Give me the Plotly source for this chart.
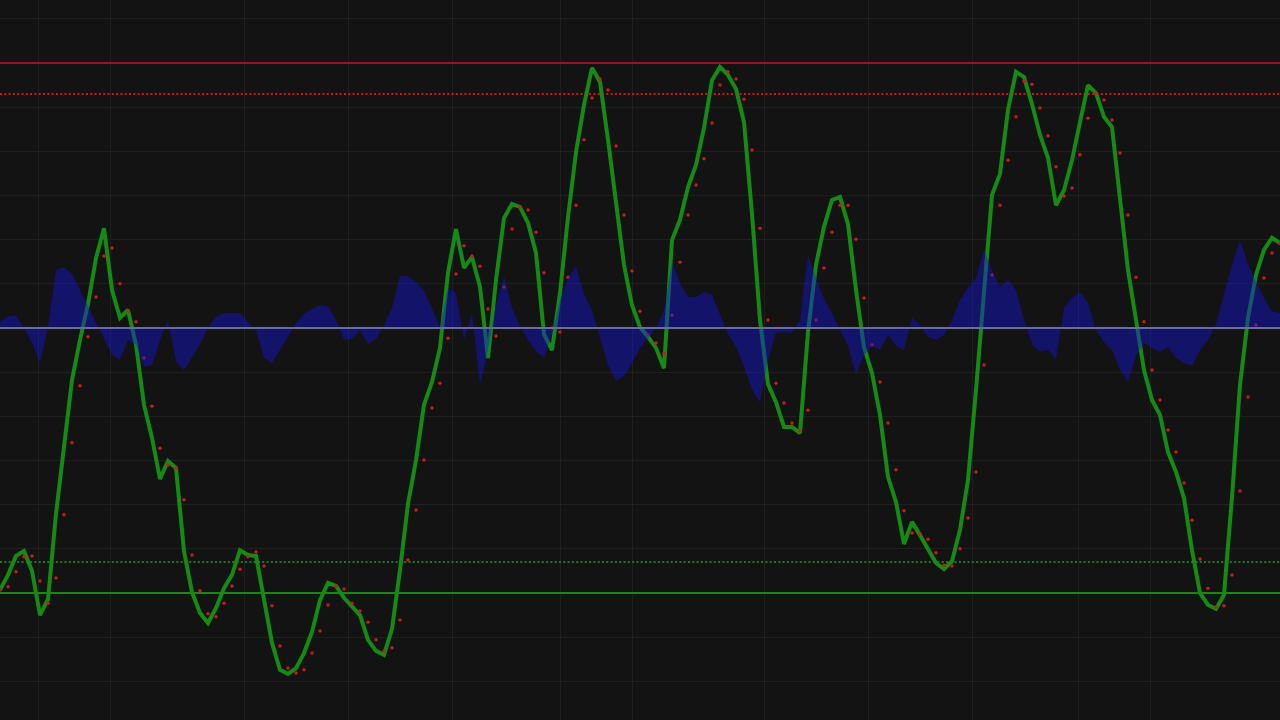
import plotly.graph_objects as go

# Bar index (one bar every 8 px of the original picture)
bars = list(range(161))

# WaveTrend main line (wt1)
wt1 = [-59.3, -55.9, -51.6, -50.5, -55.0, -65.0, -61.4, -42.1, -26.9, -11.8,
       -2.7, 5.4, 15.8, 22.6, 8.6, 2.3, 4.1, -3.8, -17.4, -24.9,
       -34.2, -30.1, -31.7, -50.5, -59.8, -64.5, -66.8, -63.4, -58.9, -55.9,
       -50.3, -51.4, -51.6, -62.0, -71.3, -77.4, -78.3, -77.0, -73.6, -68.8,
       -61.6, -57.7, -58.4, -61.1, -62.9, -65.0, -70.6, -73.1, -74.0, -68.1,
       -54.8, -39.8, -29.9, -17.4, -12.2, -4.5, 12.5, 22.4, 13.6, 16.1,
       9.3, -6.8, 10.9, 24.9, 28.1, 27.4, 23.8, 17.0, -1.4, -5.0,
       7.9, 25.1, 39.8, 50.5, 58.9, 55.7, 42.6, 29.0, 14.3, 5.2,
       0.2, -2.0, -4.5, -9.1, 19.9, 24.5, 31.9, 36.9, 45.3, 56.1,
       59.1, 57.3, 54.1, 46.6, 25.8, 1.8, -12.7, -16.8, -22.4, -22.4,
       -23.8, -0.9, 14.3, 22.9, 29.0, 29.7, 23.5, 8.6, -4.3, -10.2,
       -19.7, -33.7, -39.4, -48.9, -43.9, -46.9, -50.0, -53.2, -54.6, -52.8,
       -45.7, -34.4, -14.0, 9.1, 30.1, 34.9, 49.4, 58.0, 56.8, 50.7,
       43.7, 38.5, 27.8, 31.2, 38.0, 46.6, 55.0, 53.2, 47.8, 45.5,
       29.0, 13.1, 1.8, -9.5, -16.3, -19.7, -28.1, -32.6, -38.5, -50.3,
       -60.0, -62.7, -63.6, -60.4, -38.3, -12.9, 2.3, 12.0, 17.7, 20.4,
       19.2]

# Signal line (wt2), drawn as red dots
wt2 = [-59.3, -58.6, -55.2, -51.8, -51.6, -57.3, -62.3, -56.6, -42.3, -26.0,
       -13.1, -2.0, 7.0, 16.3, 18.1, 10.0, 3.8, 1.4, -6.8, -17.7,
       -27.2, -31.0, -31.7, -38.9, -51.4, -59.5, -64.7, -65.4, -62.3, -58.4,
       -54.6, -51.8, -50.7, -53.9, -62.9, -72.0, -77.0, -78.1, -77.4, -73.6,
       -68.6, -62.7, -58.4, -59.1, -62.3, -64.1, -66.6, -70.6, -73.1, -72.4,
       -66.1, -52.5, -41.2, -29.9, -18.1, -12.5, -2.3, 12.2, 18.6, 16.3,
       14.0, 4.3, -1.8, 9.3, 22.4, 27.4, 26.7, 21.7, 12.5, 0.0,
       -0.9, 11.5, 27.8, 42.6, 52.1, 56.4, 53.9, 41.2, 25.6, 12.9,
       3.8, -1.6, -3.4, -5.7, 2.9, 14.9, 25.6, 32.4, 38.3, 46.4,
       55.0, 58.0, 56.4, 51.8, 40.3, 22.6, 1.8, -12.5, -17.0, -21.5,
       -23.3, -18.6, 1.8, 13.6, 21.7, 27.8, 27.8, 20.1, 6.8, -3.8,
       -12.2, -21.5, -32.1, -41.4, -46.4, -46.6, -47.8, -50.9, -53.7, -53.9,
       -50.0, -43.0, -32.6, -8.4, 12.0, 27.8, 38.0, 47.8, 55.9, 55.2,
       49.8, 43.5, 36.5, 29.9, 31.7, 39.2, 47.5, 53.2, 51.6, 47.1,
       39.6, 25.6, 11.5, 1.4, -9.5, -16.3, -23.1, -28.1, -35.1, -43.5,
       -52.3, -58.9, -63.2, -62.9, -55.9, -36.9, -15.6, 0.7, 11.3, 17.0,
       19.2]

# Momentum area (wt1 - wt2 style histogram)
momentum = [1.4, 2.7, 2.9, 0.0, -3.4, -7.9, 0.2, 13.1, 13.8, 12.2,
            8.6, 5.0, 1.4, -2.3, -6.1, -7.2, -2.7, -3.8, -8.8, -8.4,
            -2.7, 1.8, -7.7, -9.5, -6.6, -3.8, 0.2, 2.5, 3.4, 3.4,
            3.4, 1.4, -0.5, -6.8, -7.9, -5.0, -2.0, 1.1, 3.2, 4.3,
            5.2, 5.0, 1.8, -2.7, -2.5, -0.5, -3.6, -2.5, 0.7, 4.5,
            11.8, 11.8, 10.4, 8.4, 4.5, 0.0, 9.1, 7.9, -2.7, 3.4,
            -13.0, -5.0, 5.2, 11.8, 4.5, 0.5, -2.7, -5.2, -6.8, -1.4,
            6.3, 11.3, 14.0, 7.7, 4.1, -2.3, -8.4, -12.0, -10.9, -7.9,
            -4.5, -2.3, 0.0, 4.1, 14.9, 10.2, 7.0, 7.0, 8.2, 7.5,
            2.9, -1.4, -4.3, -8.8, -14.0, -16.8, -7.2, -1.1, -0.9, -1.1,
            1.8, 16.5, 11.3, 6.6, 3.2, -0.5, -4.1, -10.6, -6.1, -4.1,
            -5.0, -1.6, -4.1, -5.0, 2.3, 0.7, -2.0, -2.7, -1.6, 1.8,
            6.3, 9.1, 11.3, 17.7, 13.1, 9.3, 10.9, 8.6, 1.8, -3.6,
            -5.4, -5.0, -7.2, 4.5, 6.8, 8.2, 5.7, -0.5, -3.2, -5.0,
            -9.5, -12.2, -6.3, -3.4, -4.5, -5.4, -4.3, -6.8, -7.9, -8.6,
            -5.0, -2.7, 0.9, 7.5, 14.3, 19.9, 14.5, 10.4, 6.8, 3.8,
            3.4]

# Levels
ob_level1 = 60
ob_level2 = 53
os_level1 = -60
os_level2 = -53
mid_level = 0

# Grid positions (bar index) and value grid
grid_x = [4.75, 13.75, 30.6, 43.6, 56.6, 70.0, 79.0, 95.6, 108.5, 121.6, 134.75, 143.75]
grid_y = [-80, -70, -50, -40, -30, -20, -10, 10, 20, 30, 40, 50, 70]

BG = "#131313"
GRID = "#1f1f1f"

fig = go.Figure()

x_span = [bars[0], bars[-1]]


def level_trace(level, color, dash=None):
    return go.Scatter(
        x=x_span, y=[level, level], mode="lines",
        line=dict(color=color, width=2, dash=dash) if dash else dict(color=color, width=2),
        hoverinfo="skip", showlegend=False)


fig.add_trace(level_trace(ob_level1, "#8e1c1c"))
fig.add_trace(level_trace(ob_level2, "#c41c1c", "2px,2.3px"))
fig.add_trace(level_trace(os_level2, "#1f7a1f", "2px,2.3px"))
fig.add_trace(level_trace(os_level1, "#1c861c"))

fig.add_trace(go.Scatter(
    x=bars, y=wt1, mode="lines",
    line=dict(color="#158a15", width=4, shape="linear"),
    hoverinfo="skip", showlegend=False))

fig.add_trace(go.Scatter(
    x=bars, y=wt2, mode="markers",
    marker=dict(color="#c81c1c", size=3.5, line=dict(width=0)),
    hoverinfo="skip", showlegend=False))

fig.add_trace(go.Scatter(
    x=bars, y=momentum, mode="lines", fill="tozeroy",
    line=dict(width=0, color="rgba(20,20,220,0)"),
    fillcolor="rgba(20,20,225,0.42)",
    hoverinfo="skip", showlegend=False))

fig.add_trace(level_trace(mid_level, "#6c6c9c"))

fig.update_layout(
    width=1280, height=720,
    margin=dict(l=0, r=0, t=0, b=0, pad=0),
    paper_bgcolor=BG, plot_bgcolor=BG,
    showlegend=False,
    xaxis=dict(range=[0, 160], tickvals=grid_x, showticklabels=False, ticks="",
               showgrid=True, gridcolor=GRID, gridwidth=1, zeroline=False,
               showline=False, fixedrange=True),
    yaxis=dict(range=[-88.75, 74.26], tickvals=grid_y, showticklabels=False, ticks="",
               showgrid=True, gridcolor=GRID, gridwidth=1, zeroline=False,
               showline=False, fixedrange=True),
)

fig.write_html(
    "out.html",
    config={"displayModeBar": False},
    post_script="document.body.style.margin='0px';document.body.style.overflow='hidden';document.body.style.background='#131313';",
)
